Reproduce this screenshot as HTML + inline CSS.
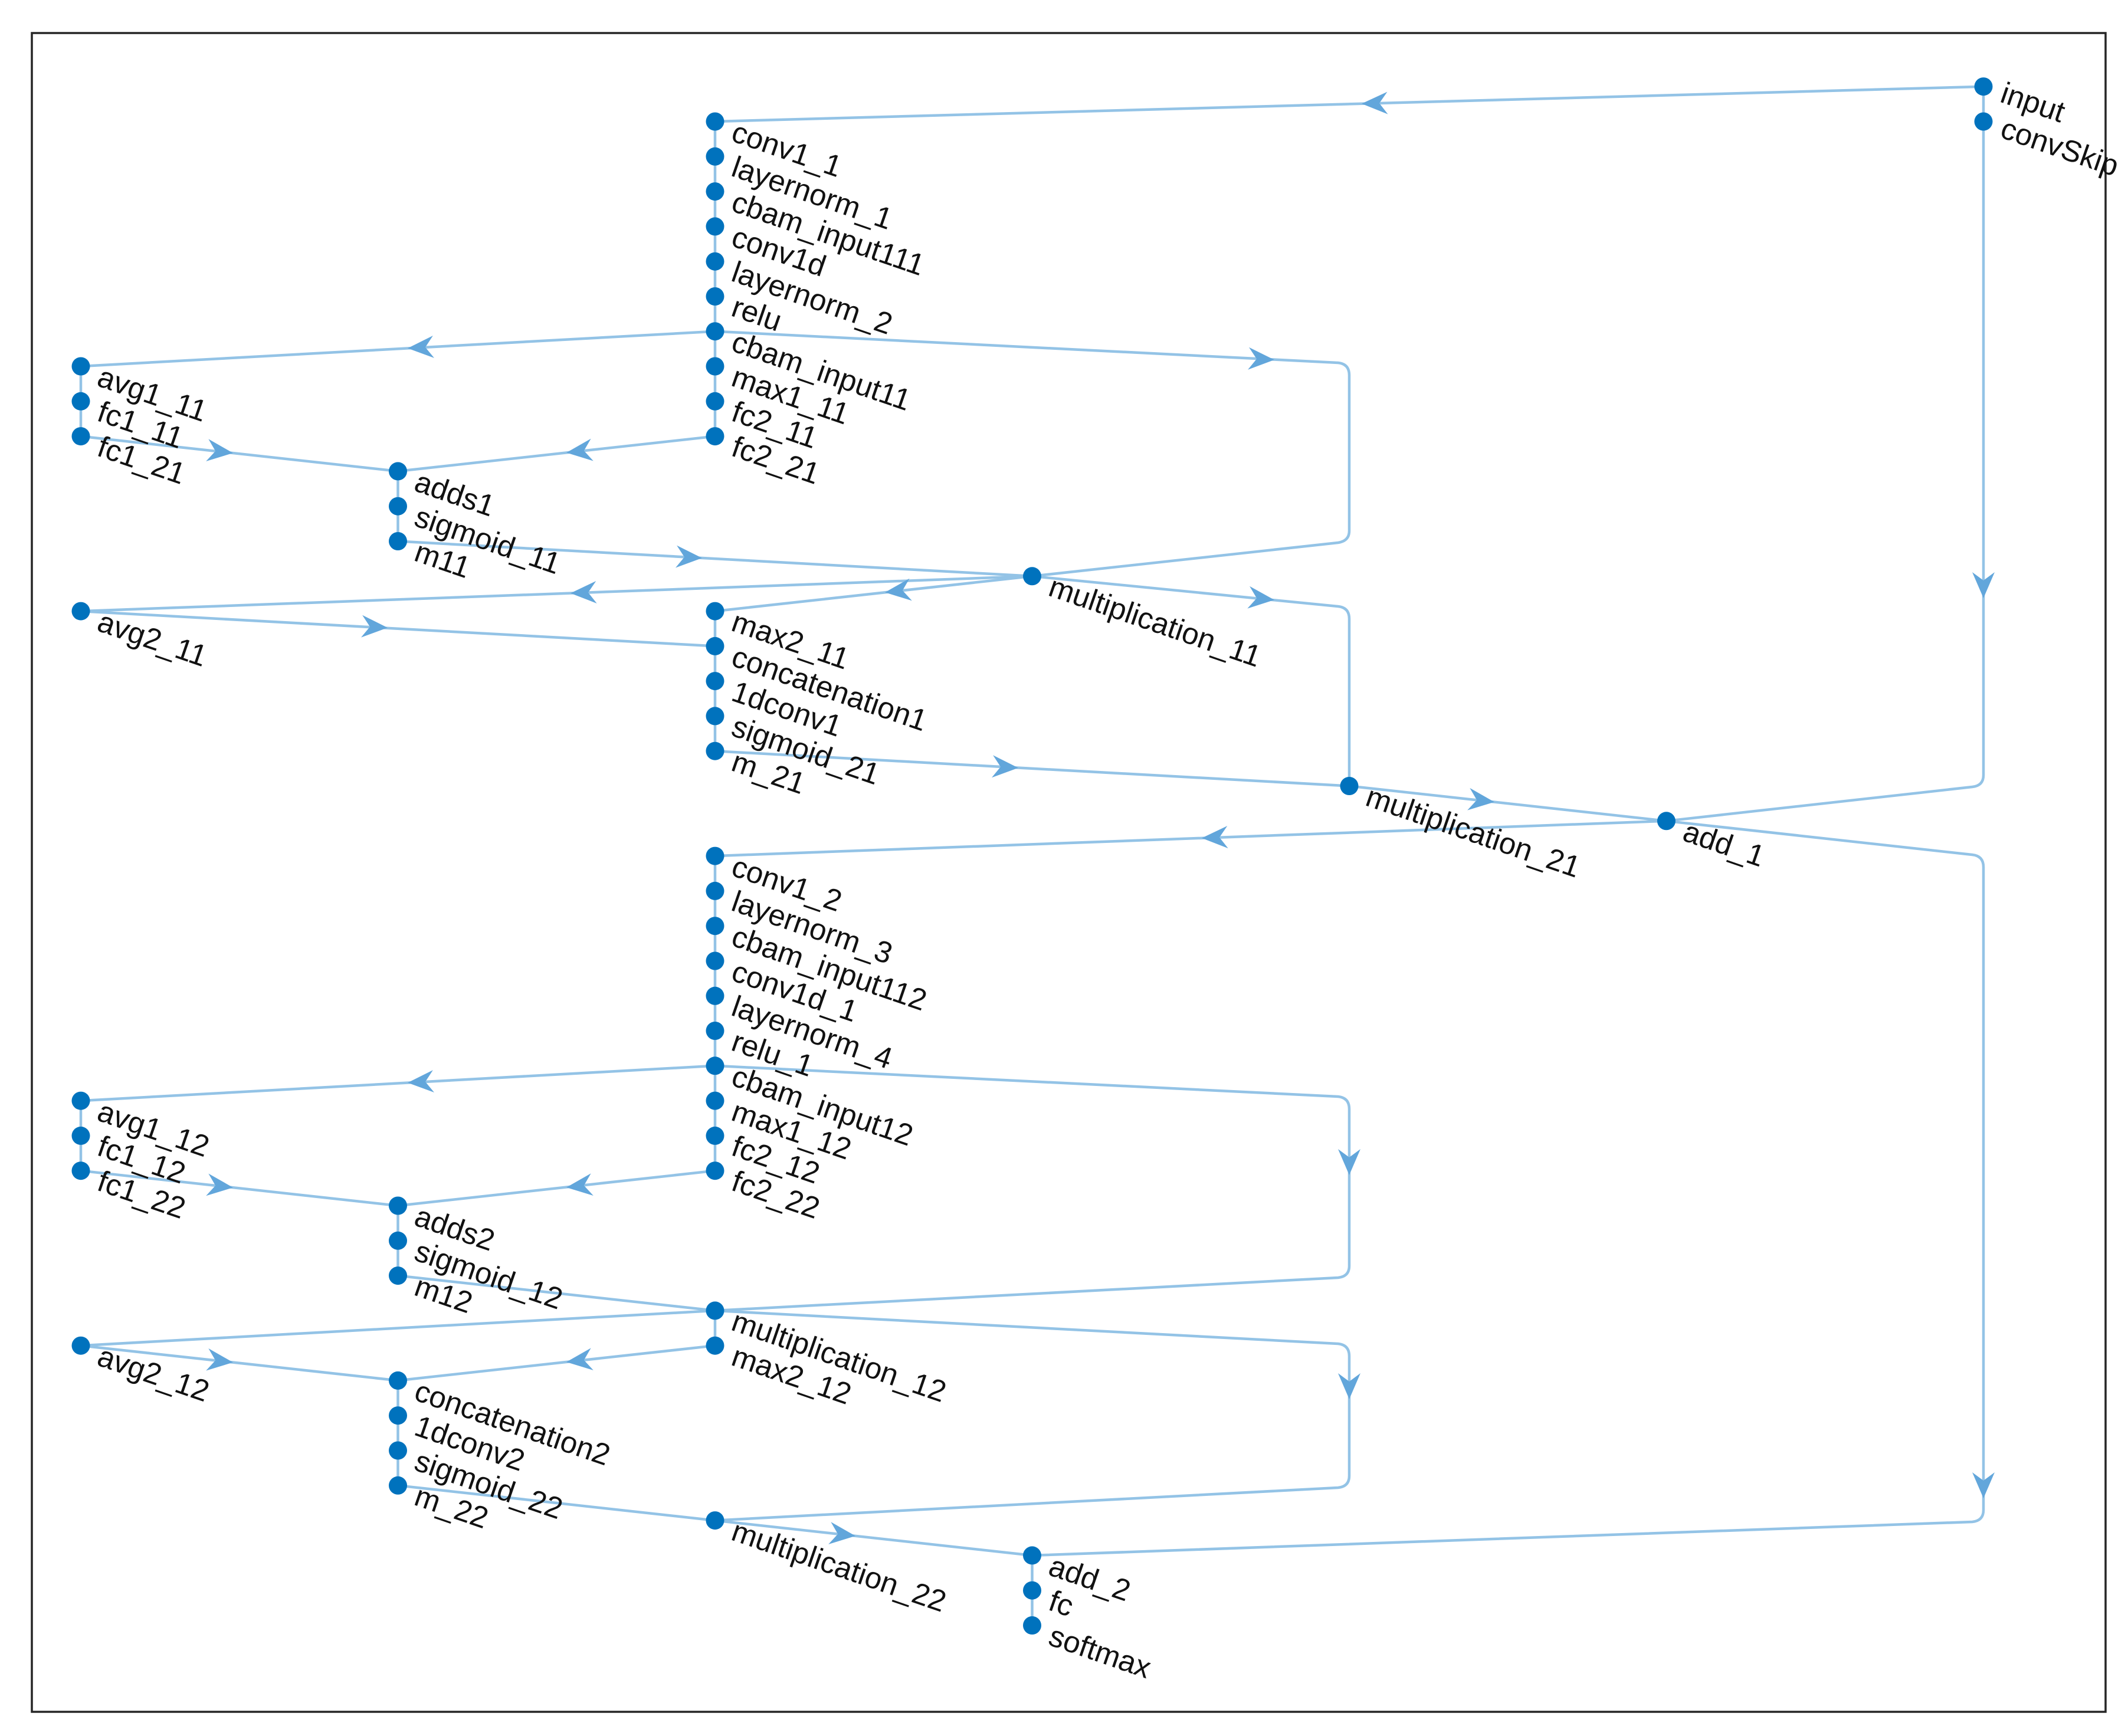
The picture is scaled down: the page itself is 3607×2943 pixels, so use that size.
<!DOCTYPE html>
<html><head><meta charset="utf-8"><style>
html,body{margin:0;padding:0;background:#fff;}
svg{display:block;}
text{font-family:"Liberation Sans",Arial,sans-serif;font-size:51px;fill:#111;}
</style></head><body>
<svg width="3607" height="2943" viewBox="0 0 3607 2943" xmlns="http://www.w3.org/2000/svg">
<rect x="0" y="0" width="3607" height="2943" fill="#fff"/>
<rect x="54" y="56" width="3515" height="2846" fill="none" stroke="#262626" stroke-width="3.5"/>
<g fill="none" stroke="#93c3e6" stroke-width="4.5" stroke-linejoin="round">
<line x1="3362" y1="146.7" x2="1212" y2="206"/>
<line x1="3362" y1="146.7" x2="3362" y2="206"/>
<line x1="1212" y1="206" x2="1212" y2="739.6"/>
<line x1="1212" y1="561.7" x2="137" y2="621"/>
<line x1="137" y1="621" x2="137" y2="739.6"/>
<line x1="137" y1="739.6" x2="674.5" y2="798.9"/>
<line x1="1212" y1="739.6" x2="674.5" y2="798.9"/>
<line x1="674.5" y1="798.9" x2="674.5" y2="917.5"/>
<line x1="674.5" y1="917.5" x2="1749.5" y2="976.8"/>
<line x1="1749.5" y1="976.8" x2="137" y2="1036.1"/>
<line x1="1749.5" y1="976.8" x2="1212" y2="1036.1"/>
<line x1="137" y1="1036.1" x2="1212" y2="1095.4"/>
<line x1="1212" y1="1036.1" x2="1212" y2="1273.2"/>
<line x1="1212" y1="1273.2" x2="2287" y2="1332.5"/>
<line x1="2287" y1="1332.5" x2="2824.5" y2="1391.8"/>
<line x1="2824.5" y1="1391.8" x2="1212" y2="1451.1"/>
<line x1="1212" y1="1451.1" x2="1212" y2="1984.7"/>
<line x1="1212" y1="1806.8" x2="137" y2="1866.1"/>
<line x1="137" y1="1866.1" x2="137" y2="1984.7"/>
<line x1="137" y1="1984.7" x2="674.5" y2="2044"/>
<line x1="1212" y1="1984.7" x2="674.5" y2="2044"/>
<line x1="674.5" y1="2044" x2="674.5" y2="2162.6"/>
<line x1="674.5" y1="2162.6" x2="1212" y2="2221.9"/>
<line x1="1212" y1="2221.9" x2="137" y2="2281.2"/>
<line x1="1212" y1="2221.9" x2="1212" y2="2281.2"/>
<line x1="137" y1="2281.2" x2="674.5" y2="2340.4"/>
<line x1="1212" y1="2281.2" x2="674.5" y2="2340.4"/>
<line x1="674.5" y1="2340.4" x2="674.5" y2="2518.3"/>
<line x1="674.5" y1="2518.3" x2="1212" y2="2577.6"/>
<line x1="1212" y1="2577.6" x2="1749.5" y2="2636.9"/>
<line x1="1749.5" y1="2636.9" x2="1749.5" y2="2755.5"/>
<path d="M1212,561.7 L2268,615 Q2287,617 2287,636 L2287,900 Q2287,917 2268,920 L1749.5,976.8"/>
<path d="M1749.5,976.8 L2268,1028 Q2287,1030 2287,1049 L2287,1332.5"/>
<path d="M3362,206 L3362,1314 Q3362,1332 3343,1334 L2824.5,1391.8"/>
<path d="M2824.5,1391.8 L3343,1449 Q3362,1451 3362,1470 L3362,2560 Q3362,2578 3343,2580 L1749.5,2636.9"/>
<path d="M1212,1806.8 L2268,1859 Q2287,1861 2287,1880 L2287,2146 Q2287,2164 2268,2166 L1212,2221.9"/>
<path d="M1212,2221.9 L2268,2278 Q2287,2280 2287,2299 L2287,2502 Q2287,2520 2268,2522 L1212,2577.6"/>
</g>
<g fill="#62a6db">
<path d="M0,0 L-44,-19 L-30,0 L-44,19 Z" transform="translate(2308,175.8) rotate(178.4)"/>
<path d="M0,0 L-44,-19 L-30,0 L-44,19 Z" transform="translate(3362,1014) rotate(90)"/>
<path d="M0,0 L-44,-19 L-30,0 L-44,19 Z" transform="translate(691,590.4) rotate(176.8)"/>
<path d="M0,0 L-44,-19 L-30,0 L-44,19 Z" transform="translate(2160,610) rotate(2.9)"/>
<path d="M0,0 L-44,-19 L-30,0 L-44,19 Z" transform="translate(395,768) rotate(6.3)"/>
<path d="M0,0 L-44,-19 L-30,0 L-44,19 Z" transform="translate(960,767.4) rotate(173.7)"/>
<path d="M0,0 L-44,-19 L-30,0 L-44,19 Z" transform="translate(1190,946) rotate(3.16)"/>
<path d="M0,0 L-44,-19 L-30,0 L-44,19 Z" transform="translate(967,1005.6) rotate(177.9)"/>
<path d="M0,0 L-44,-19 L-30,0 L-44,19 Z" transform="translate(1500,1004.3) rotate(173.7)"/>
<path d="M0,0 L-44,-19 L-30,0 L-44,19 Z" transform="translate(2160,1017) rotate(5.6)"/>
<path d="M0,0 L-44,-19 L-30,0 L-44,19 Z" transform="translate(657,1064.1) rotate(3.16)"/>
<path d="M0,0 L-44,-19 L-30,0 L-44,19 Z" transform="translate(1726,1301.7) rotate(3.16)"/>
<path d="M0,0 L-44,-19 L-30,0 L-44,19 Z" transform="translate(2533,1359.6) rotate(6.3)"/>
<path d="M0,0 L-44,-19 L-30,0 L-44,19 Z" transform="translate(2037,1420.7) rotate(177.9)"/>
<path d="M0,0 L-44,-19 L-30,0 L-44,19 Z" transform="translate(3362,2540) rotate(90)"/>
<path d="M0,0 L-44,-19 L-30,0 L-44,19 Z" transform="translate(691,1835.5) rotate(176.8)"/>
<path d="M0,0 L-44,-19 L-30,0 L-44,19 Z" transform="translate(2287,1992) rotate(90)"/>
<path d="M0,0 L-44,-19 L-30,0 L-44,19 Z" transform="translate(395,2013.2) rotate(6.3)"/>
<path d="M0,0 L-44,-19 L-30,0 L-44,19 Z" transform="translate(960,2013) rotate(173.7)"/>
<path d="M0,0 L-44,-19 L-30,0 L-44,19 Z" transform="translate(2287,2372) rotate(90)"/>
<path d="M0,0 L-44,-19 L-30,0 L-44,19 Z" transform="translate(395,2309.6) rotate(6.3)"/>
<path d="M0,0 L-44,-19 L-30,0 L-44,19 Z" transform="translate(960,2309) rotate(173.7)"/>
<path d="M0,0 L-44,-19 L-30,0 L-44,19 Z" transform="translate(1450,2603.9) rotate(6.3)"/>
</g>
<g fill="#0072BD">
<circle cx="3362" cy="146.7" r="15.5"/><circle cx="3362" cy="206" r="15.5"/>
<circle cx="1212" cy="206" r="15.5"/><circle cx="1212" cy="265.3" r="15.5"/><circle cx="1212" cy="324.6" r="15.5"/><circle cx="1212" cy="383.9" r="15.5"/><circle cx="1212" cy="443.2" r="15.5"/><circle cx="1212" cy="502.5" r="15.5"/><circle cx="1212" cy="561.7" r="15.5"/><circle cx="1212" cy="621" r="15.5"/><circle cx="1212" cy="680.3" r="15.5"/><circle cx="1212" cy="739.6" r="15.5"/>
<circle cx="137" cy="621" r="15.5"/><circle cx="137" cy="680.3" r="15.5"/><circle cx="137" cy="739.6" r="15.5"/>
<circle cx="674.5" cy="798.9" r="15.5"/><circle cx="674.5" cy="858.2" r="15.5"/><circle cx="674.5" cy="917.5" r="15.5"/>
<circle cx="1749.5" cy="976.8" r="15.5"/>
<circle cx="137" cy="1036.1" r="15.5"/>
<circle cx="1212" cy="1036.1" r="15.5"/><circle cx="1212" cy="1095.4" r="15.5"/><circle cx="1212" cy="1154.6" r="15.5"/><circle cx="1212" cy="1213.9" r="15.5"/><circle cx="1212" cy="1273.2" r="15.5"/>
<circle cx="2287" cy="1332.5" r="15.5"/><circle cx="2824.5" cy="1391.8" r="15.5"/>
<circle cx="1212" cy="1451.1" r="15.5"/><circle cx="1212" cy="1510.4" r="15.5"/><circle cx="1212" cy="1569.7" r="15.5"/><circle cx="1212" cy="1629" r="15.5"/><circle cx="1212" cy="1688.3" r="15.5"/><circle cx="1212" cy="1747.5" r="15.5"/><circle cx="1212" cy="1806.8" r="15.5"/><circle cx="1212" cy="1866.1" r="15.5"/><circle cx="1212" cy="1925.4" r="15.5"/><circle cx="1212" cy="1984.7" r="15.5"/>
<circle cx="137" cy="1866.1" r="15.5"/><circle cx="137" cy="1925.4" r="15.5"/><circle cx="137" cy="1984.7" r="15.5"/>
<circle cx="674.5" cy="2044" r="15.5"/><circle cx="674.5" cy="2103.3" r="15.5"/><circle cx="674.5" cy="2162.6" r="15.5"/>
<circle cx="1212" cy="2221.9" r="15.5"/><circle cx="1212" cy="2281.2" r="15.5"/>
<circle cx="137" cy="2281.2" r="15.5"/>
<circle cx="674.5" cy="2340.4" r="15.5"/><circle cx="674.5" cy="2399.7" r="15.5"/><circle cx="674.5" cy="2459" r="15.5"/><circle cx="674.5" cy="2518.3" r="15.5"/>
<circle cx="1212" cy="2577.6" r="15.5"/>
<circle cx="1749.5" cy="2636.9" r="15.5"/><circle cx="1749.5" cy="2696.2" r="15.5"/><circle cx="1749.5" cy="2755.5" r="15.5"/>
</g>
<g>
<text transform="translate(3388,172) rotate(19)">input</text>
<text transform="translate(3388,232) rotate(19)">convSkip</text>
<text transform="translate(1237,238) rotate(19)">conv1_1</text>
<text transform="translate(1237,297.3) rotate(19)">layernorm_1</text>
<text transform="translate(1237,356.6) rotate(19)">cbam_input111</text>
<text transform="translate(1237,415.9) rotate(19)">conv1d</text>
<text transform="translate(1237,475.2) rotate(19)">layernorm_2</text>
<text transform="translate(1237,534.5) rotate(19)">relu</text>
<text transform="translate(1237,593.7) rotate(19)">cbam_input11</text>
<text transform="translate(1237,653) rotate(19)">max1_11</text>
<text transform="translate(1237,712.3) rotate(19)">fc2_11</text>
<text transform="translate(1237,771.6) rotate(19)">fc2_21</text>
<text transform="translate(162,653) rotate(19)">avg1_11</text>
<text transform="translate(162,712.3) rotate(19)">fc1_11</text>
<text transform="translate(162,771.6) rotate(19)">fc1_21</text>
<text transform="translate(699.5,830.9) rotate(19)">adds1</text>
<text transform="translate(699.5,890.2) rotate(19)">sigmoid_11</text>
<text transform="translate(699.5,949.5) rotate(19)">m11</text>
<text transform="translate(1774.5,1008.8) rotate(19)">multiplication_11</text>
<text transform="translate(162,1068.1) rotate(19)">avg2_11</text>
<text transform="translate(1237,1068.1) rotate(19)">max2_11</text>
<text transform="translate(1237,1127.4) rotate(19)">concatenation1</text>
<text transform="translate(1237,1186.6) rotate(19)">1dconv1</text>
<text transform="translate(1237,1245.9) rotate(19)">sigmoid_21</text>
<text transform="translate(1237,1305.2) rotate(19)">m_21</text>
<text transform="translate(2312,1364.5) rotate(19)">multiplication_21</text>
<text transform="translate(2849.5,1423.8) rotate(19)">add_1</text>
<text transform="translate(1237,1483.1) rotate(19)">conv1_2</text>
<text transform="translate(1237,1542.4) rotate(19)">layernorm_3</text>
<text transform="translate(1237,1601.7) rotate(19)">cbam_input112</text>
<text transform="translate(1237,1661) rotate(19)">conv1d_1</text>
<text transform="translate(1237,1720.3) rotate(19)">layernorm_4</text>
<text transform="translate(1237,1779.5) rotate(19)">relu_1</text>
<text transform="translate(1237,1838.8) rotate(19)">cbam_input12</text>
<text transform="translate(1237,1898.1) rotate(19)">max1_12</text>
<text transform="translate(1237,1957.4) rotate(19)">fc2_12</text>
<text transform="translate(1237,2016.7) rotate(19)">fc2_22</text>
<text transform="translate(162,1898.1) rotate(19)">avg1_12</text>
<text transform="translate(162,1957.4) rotate(19)">fc1_12</text>
<text transform="translate(162,2016.7) rotate(19)">fc1_22</text>
<text transform="translate(699.5,2076) rotate(19)">adds2</text>
<text transform="translate(699.5,2135.3) rotate(19)">sigmoid_12</text>
<text transform="translate(699.5,2194.6) rotate(19)">m12</text>
<text transform="translate(1237,2253.9) rotate(19)">multiplication_12</text>
<text transform="translate(1237,2313.2) rotate(19)">max2_12</text>
<text transform="translate(162,2313.2) rotate(19)">avg2_12</text>
<text transform="translate(699.5,2372.4) rotate(19)">concatenation2</text>
<text transform="translate(699.5,2431.7) rotate(19)">1dconv2</text>
<text transform="translate(699.5,2491) rotate(19)">sigmoid_22</text>
<text transform="translate(699.5,2550.3) rotate(19)">m_22</text>
<text transform="translate(1237,2609.6) rotate(19)">multiplication_22</text>
<text transform="translate(1774.5,2668.9) rotate(19)">add_2</text>
<text transform="translate(1774.5,2728.2) rotate(19)">fc</text>
<text transform="translate(1774.5,2787.5) rotate(19)">softmax</text>
</g>
</svg>
</body></html>
